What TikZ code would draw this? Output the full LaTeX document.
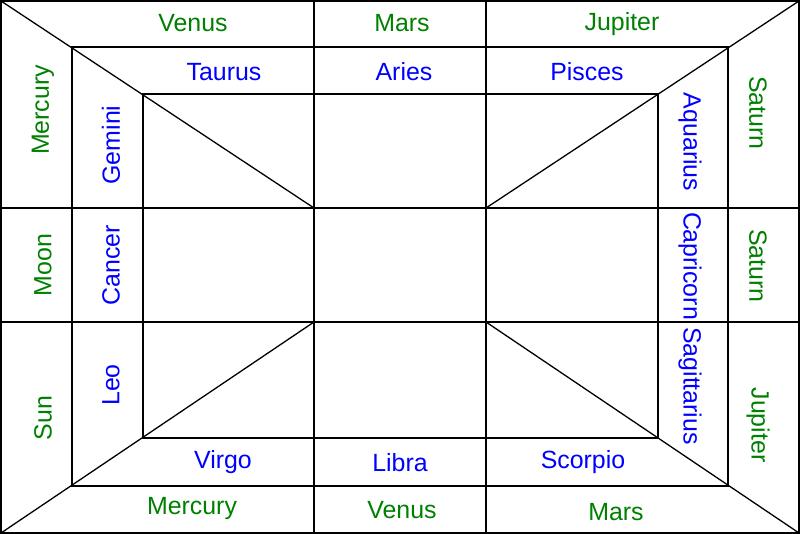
\documentclass[tikz,border=0pt]{standalone}
\usepackage{fontspec}
\setmainfont{Liberation Sans}
\usetikzlibrary{positioning}
\definecolor{planetgreen}{HTML}{008000}
\definecolor{signblue}{HTML}{0000FF}

\begin{document}
\begin{tikzpicture}[x=1bp, y=-1bp,
    planet/.style={text=planetgreen, font=\fontsize{25}{30}\selectfont, inner sep=0pt},
    sign/.style={text=signblue, font=\fontsize{25}{30}\selectfont, inner sep=0pt},
    gridline/.style={line width=1.3bp}]
  \useasboundingbox (0,0) rectangle (800,534);
  % Corners of the chart and of the centre box
  \coordinate (tl) at (1,1);     \coordinate (tr) at (799,1);
  \coordinate (bl) at (1,533);   \coordinate (br) at (799,533);
  \coordinate (ctl) at (314,208); \coordinate (ctr) at (486,208);
  \coordinate (cbl) at (314,322); \coordinate (cbr) at (486,322);
  % Outer frame
  \draw[line width=2bp] (tl) rectangle (br);
  % Middle and inner frames
  \draw[gridline] (72,47) rectangle (728,486);
  \draw[gridline] (143,94) rectangle (658,438);
  % Dividers across the whole chart
  \draw[gridline] (314,1) -- (314,533) (486,1) -- (486,533);
  \draw[gridline] (1,208) -- (799,208) (1,322) -- (799,322);
  % Corner diagonals
  \draw[gridline] (tl) -- (ctl) (tr) -- (ctr) (bl) -- (cbl) (br) -- (cbr);
  % Planets, top and bottom rows
  \foreach \x/\y/\lab [count=\i] in {193/23/Venus, 402/23/Mars, 622/24/Jupiter,
      192/509/Mercury, 402/510/Venus, 616/512/Mars}
    \node[planet] (planet-h\i) at (\x,\y) {\lab};
  % Planets, left and right columns
  \foreach \y/\lab [count=\i] in {110/Mercury, 265/Moon, 418/Sun}
    \node[planet, rotate=90] (planet-l\i) at (43,\y) {\lab};
  \foreach \y/\lab [count=\i] in {113/Saturn, 266/Saturn, 425/Jupiter}
    \node[planet, rotate=-90] (planet-r\i) at (758,\y) {\lab};
  % Signs, top and bottom rows
  \foreach \x/\y/\lab [count=\i] in {224/72/Taurus, 404/72/Aries, 587/72/Pisces,
      223/462/Virgo, 400/463/Libra, 583/462/Scorpio}
    \node[sign] (sign-h\i) at (\x,\y) {\lab};
  % Signs, left and right columns
  \foreach \y/\lab [count=\i] in {145/Gemini, 265/Cancer, 385/Leo}
    \node[sign, rotate=90] (sign-l\i) at (111,\y) {\lab};
  \foreach \y/\lab [count=\i] in {142/Aquarius, 266/Capricorn, 386/Sagittarius}
    \node[sign, rotate=-90] (sign-r\i) at (690,\y) {\lab};
\end{tikzpicture}
\end{document}
